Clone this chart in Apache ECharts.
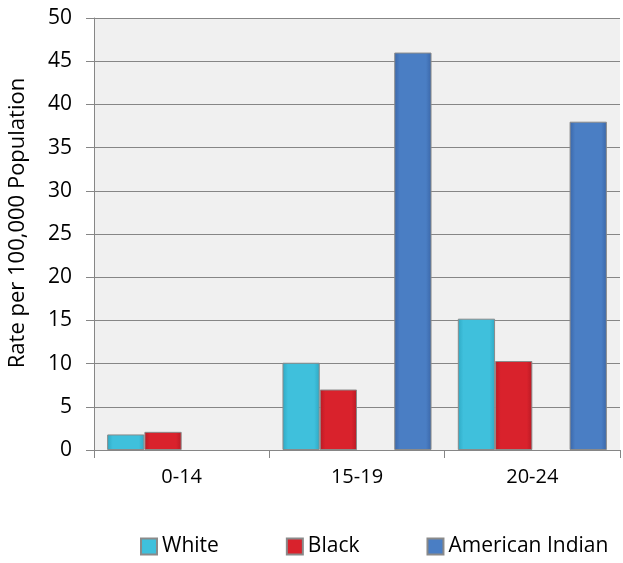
<!DOCTYPE html>
<html>
<head>
<meta charset="utf-8">
<script src="https://cdn.jsdelivr.net/npm/echarts@6/dist/echarts.min.js"></script>
<style>html,body{margin:0;padding:0;background:#fff}#c{width:623px;height:563px}</style>
</head>
<body>
<div id="c"></div>
<script>
var categories = ['0-14', '15-19', '20-24'];
var whiteVals = [1.8, 10.1, 15.2];
var blackVals = [2.1, 7.0, 10.3];
var spacerVals = [null, null, null];
var aiVals = [null, 46.0, 38.0];
var yTicks = [0, 5, 10, 15, 20, 25, 30, 35, 40, 45, 50];

function grad(edge, mid) {
  return new echarts.graphic.LinearGradient(0, 0, 1, 0, [
    {offset: 0, color: edge}, {offset: 0.15, color: mid}, {offset: 0.85, color: mid}, {offset: 1, color: edge}
  ]);
}
var FONT = 'Open Sans';
var chart = echarts.init(document.getElementById('c'));
chart.setOption({
  animation: false,
  textStyle: {fontFamily: FONT},
  grid: {left: 94, right: 3, top: 18, bottom: 113, show: true, backgroundColor: '#f0f0f0', borderWidth: 0,
    containLabel: false, outerBoundsMode: 'none'},
  legend: {
    data: ['White', 'Black', 'American Indian'],
    left: 140, top: 536, padding: 0, itemWidth: 16, itemHeight: 16, itemGap: 67,
    textStyle: {fontSize: 21, color: '#000', fontFamily: FONT, padding: [0, 0, 0, 0]},
    icon: 'rect'
  },
  xAxis: {
    type: 'category', data: categories,
    axisLine: {lineStyle: {color: '#868686'}},
    axisTick: {show: true, length: 8, lineStyle: {color: '#868686'}},
    axisLabel: {fontSize: 20, color: '#000', margin: 17, fontFamily: FONT}
  },
  yAxis: {
    type: 'value', min: 0, max: 50, interval: 5,
    name: 'Rate per 100,000 Population', nameLocation: 'middle', nameGap: 65,
    nameTextStyle: {fontSize: 22, color: '#000', fontFamily: FONT, padding: [0, 0, 0, 22]},
    axisLine: {show: true, lineStyle: {color: '#868686'}},
    axisTick: {show: true, length: 8, lineStyle: {color: '#868686'}},
    axisLabel: {fontSize: 21, color: '#000', margin: 22, fontFamily: FONT,
      formatter: function (v) { return yTicks.indexOf(v) >= 0 ? String(v) : ''; }},
    splitLine: {lineStyle: {color: '#868686'}}
  },
  series: [
    {name: 'White', type: 'bar', data: whiteVals, barGap: '0%', barCategoryGap: '15%',
      itemStyle: {color: grad('#2fa9c4', '#3fc0dc'), borderColor: '#8a8a8a', borderWidth: 1}},
    {name: 'Black', type: 'bar', data: blackVals,
      itemStyle: {color: grad('#b81a24', '#d9222c'), borderColor: '#8a8a8a', borderWidth: 1}},
    {name: 'spacer', type: 'bar', data: spacerVals},
    {name: 'American Indian', type: 'bar', data: aiVals,
      itemStyle: {color: grad('#3a66a8', '#4a7ec4'), borderColor: '#8a8a8a', borderWidth: 1}}
  ]
});
</script>
</body>
</html>
